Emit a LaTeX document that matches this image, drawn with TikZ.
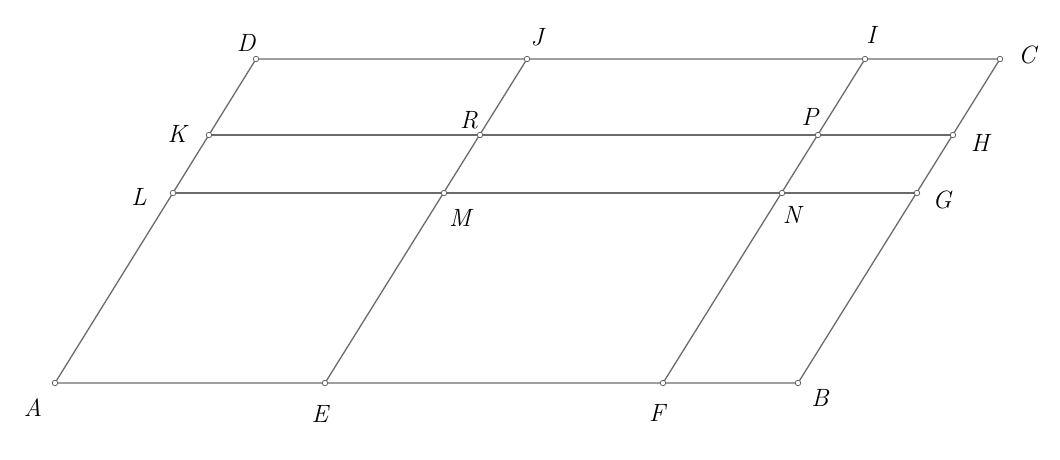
\documentclass[tikz,border=0pt]{standalone}
\usepackage{fontspec}
\begin{document}
\begin{tikzpicture}[x=1pt,y=-1pt,
  seg/.style={draw=black!58, line width=1.3pt},
  pt/.style={circle, draw=black!60, fill=white, line width=0.8pt, inner sep=0pt, minimum size=5.5pt},
  lab/.style={font=\fontsize{25}{28}\selectfont\itshape, inner sep=0pt}]
\useasboundingbox (0,0) rectangle (1060,460);
\coordinate (A) at (55,383);
\coordinate (E) at (325,383);
\coordinate (F) at (663,383);
\coordinate (B) at (798,383);
\coordinate (D) at (256,59);
\coordinate (J) at (527,59);
\coordinate (I) at (865,59);
\coordinate (C) at (1000,59);
\coordinate (K) at (209,135);
\coordinate (R) at (480,135);
\coordinate (P) at (818,135);
\coordinate (H) at (953,135);
\coordinate (L) at (173,193);
\coordinate (M) at (444,193);
\coordinate (N) at (782,193);
\coordinate (G) at (917,193);
\draw[seg] (A) -- (B) -- (C) -- (D) -- cycle;
\draw[seg] (E) -- (J);
\draw[seg] (F) -- (I);
\draw[seg] (K) -- (H);
\draw[seg] (L) -- (G);
\foreach \p in {A,E,F,B,D,J,I,C,K,R,P,H,L,M,N,G}
  \node[pt] (p\p) at (\p) {};
\node[lab] (lA) at (33,408) {A};
\node[lab] (lE) at (320,414) {E};
\node[lab] (lF) at (657,413) {F};
\node[lab] (lB) at (820,398) {B};
\node[lab] (lD) at (246,43) {D};
\node[lab] (lJ) at (537,37) {J};
\node[lab] (lI) at (871,35) {I};
\node[lab] (lC) at (1027,55) {C};
\node[lab] (lK) at (177,134) {K};
\node[lab] (lR) at (469,120) {R};
\node[lab] (lP) at (810,117) {P};
\node[lab] (lH) at (980,143) {H};
\node[lab] (lL) at (139,197) {L};
\node[lab] (lM) at (460,218) {M};
\node[lab] (lN) at (792,215) {N};
\node[lab] (lG) at (942,200) {G};
\end{tikzpicture}
\end{document}
